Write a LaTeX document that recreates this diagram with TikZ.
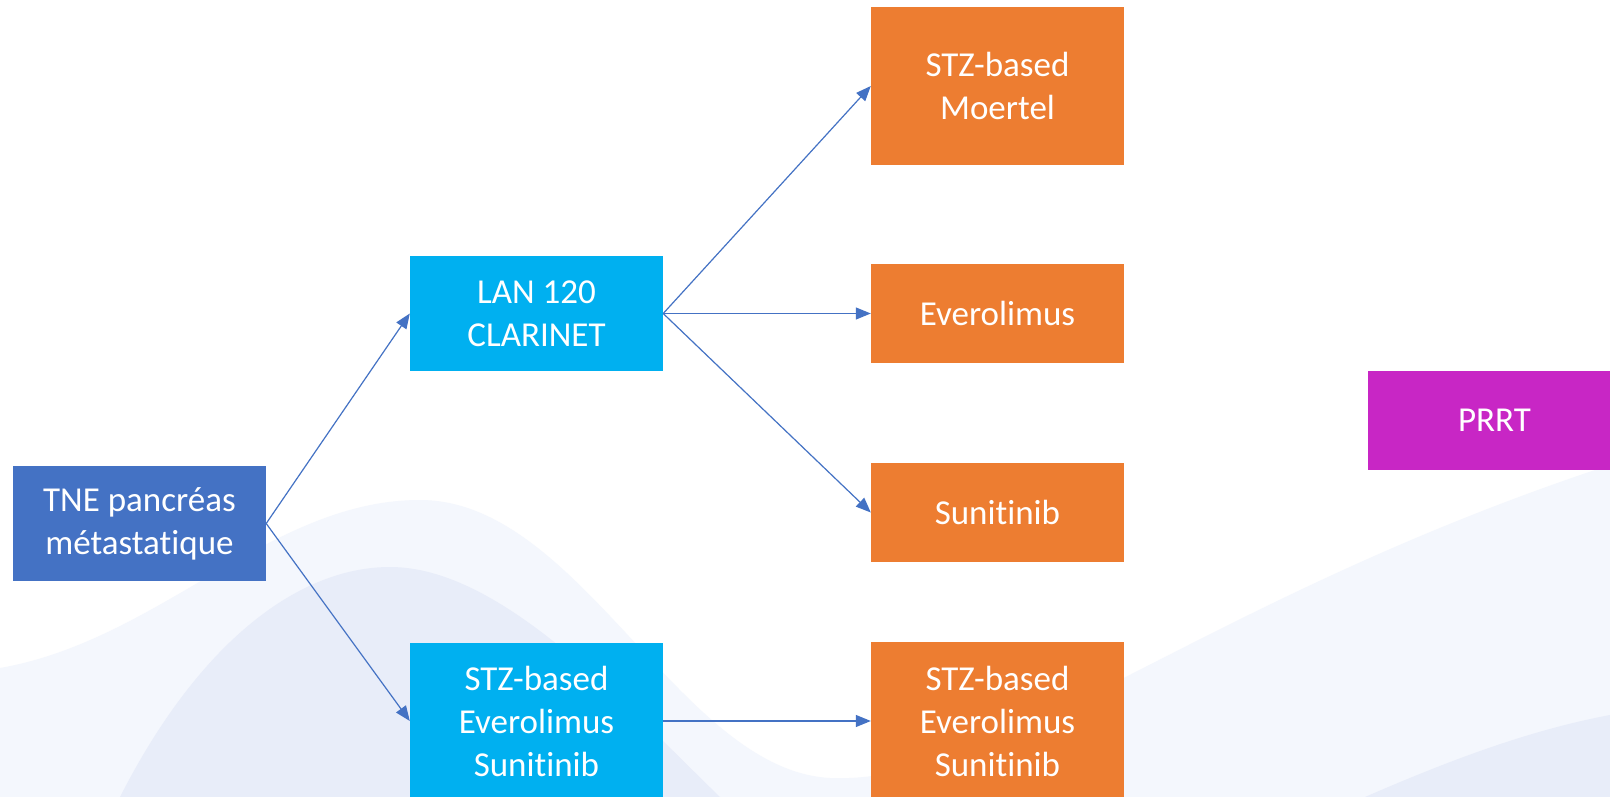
\documentclass[tikz,border=0pt]{standalone}
\usepackage{fontspec}
\setmainfont[Ligatures=NoCommon]{Carlito}
\usetikzlibrary{arrows.meta}
\definecolor{tneblue}{HTML}{4472C4}
\definecolor{cyanbox}{HTML}{00B0F0}
\definecolor{orangebox}{HTML}{ED7D31}
\definecolor{prrtbox}{HTML}{C826C5}
\definecolor{arrowblue}{HTML}{4472C4}
\definecolor{waveA}{HTML}{F4F7FD}
\definecolor{waveB}{HTML}{E8EDF9}
\begin{document}
\begin{tikzpicture}[x=1pt,y=-1pt,
  box/.style={rectangle, draw=none, inner sep=0pt, minimum width=253pt, align=center, text=white, font=\fontsize{35}{43}\selectfont},
  arr/.style={draw=arrowblue, line width=1.2pt, -{Triangle[length=15pt,width=12pt]}}]
\clip (0,0) rectangle (1610,797);
\fill[white] (0,0) rectangle (1610,797);
% background waves
\fill[waveA] (0,668) .. controls (160,640) and (270,500) .. (420,500)
  .. controls (580,500) and (680,770) .. (830,778)
  .. controls (1000,785) and (1200,600) .. (1610,465)
  -- (1610,797) -- (0,797) -- cycle;
\fill[waveB] (120,797) .. controls (200,640) and (300,567) .. (390,567)
  .. controls (500,567) and (620,700) .. (720,797) -- cycle;
\fill[waveB] (1365,797) .. controls (1450,760) and (1530,730) .. (1610,715) -- (1610,797) -- cycle;
% nodes
\node[box, fill=tneblue, minimum height=115pt] (tne) at (139.5,523.5) {TNE pancréas\\métastatique};
\node[box, fill=cyanbox, minimum height=115pt] (lan) at (536.5,313.5) {LAN 120\\CLARINET};
\node[box, fill=cyanbox, minimum height=156pt] (stzb) at (536.5,721) {STZ-based\\Everolimus\\Sunitinib};
\node[box, fill=orangebox, minimum height=158pt] (moer) at (997.5,86) {STZ-based\\Moertel};
\node[box, fill=orangebox, minimum height=99pt] (evero) at (997.5,313.5) {Everolimus};
\node[box, fill=orangebox, minimum height=99pt] (suni) at (997.5,512.5) {Sunitinib};
\node[box, fill=orangebox, minimum height=158pt] (stzo) at (997.5,721) {STZ-based\\Everolimus\\Sunitinib};
\node[box, fill=prrtbox, minimum height=99pt] (prrt) at (1494.5,420.5) {PRRT};
% connectors
\draw[arr] (tne.east) -- (lan.west);
\draw[arr] (tne.east) -- (stzb.west);
\draw[arr] (lan.east) -- (moer.west);
\draw[arr] (lan.east) -- (evero.west);
\draw[arr] (lan.east) -- (suni.west);
\draw[arr] (stzb.east) -- (stzo.west);
\end{tikzpicture}
\end{document}
